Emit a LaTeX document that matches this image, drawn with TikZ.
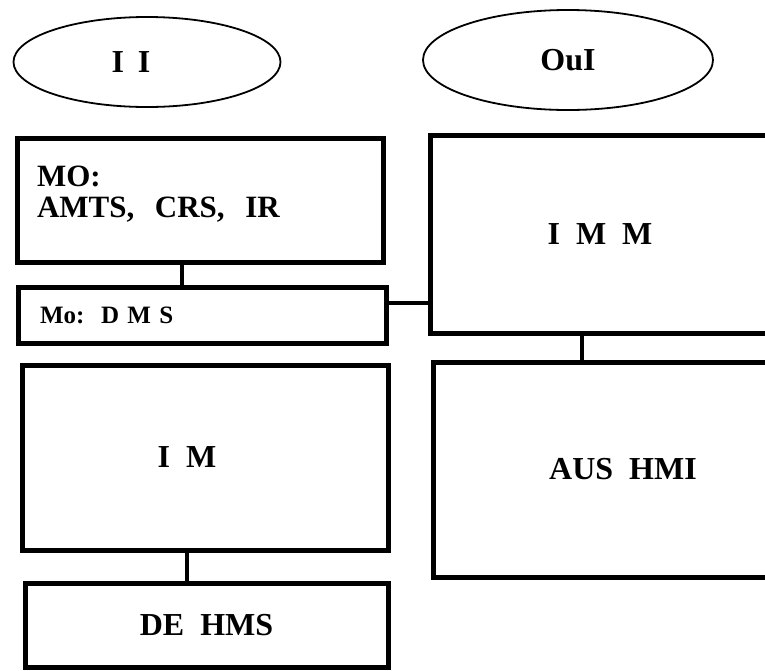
\documentclass[tikz,border=0pt]{standalone}
\usepackage{fontspec}
\setmainfont{Liberation Serif}
\usetikzlibrary{shapes.geometric}

\begin{document}
\begin{tikzpicture}[x=1pt, y=-1pt,
  block/.style={draw, line width=5pt, rectangle, inner sep=0pt,
                font=\fontsize{32}{31}\selectfont\bfseries},
  oval/.style={draw, line width=1.8pt, ellipse, inner sep=0pt,
               font=\fontsize{32}{31}\selectfont\bfseries},
  link/.style={line width=4pt}
]
\clip (0,0) rectangle (765,670);
% ovals on top
\node[oval, minimum width=267, minimum height=90] (inp) at (147,62)
  {I\hspace{14pt}I\hspace{32pt}\null};
\node[oval, minimum width=290, minimum height=100] (out) at (568,60) {OuI};
% left column
\node[block, minimum width=366, minimum height=124, text width=326,
      text depth=48pt, align=left, font=\fontsize{31}{31}\selectfont\bfseries]
  (mo) at (200,200) {MO:\\AMTS,~~CRS,~~IR};
\node[block, minimum width=368, minimum height=56, text width=324,
      align=left, font=\fontsize{25}{28}\selectfont\bfseries] (dms) at (202,315)
  {Mo:~~D M S};
\node[block, minimum width=366, minimum height=185] (im) at (205,457.5)
  {I~~M\hspace{36pt}\null};
\node[block, minimum width=363, minimum height=84] (de) at (206.5,625) {DE~~HMS};
% right column
\node[block, minimum width=340, minimum height=198] (imm) at (600,234) {I~~M~~M};
\node[block, minimum width=380, minimum height=215] (aus) at (623,469.5) {AUS~~HMI};
% links
\draw[link] ([xshift=-18]mo.south) -- ([xshift=-18]mo.south |- dms.north);
\draw[link] ([yshift=12]dms.east) -- ([yshift=12]dms.east -| imm.west);
\draw[link] ([xshift=-18]imm.south) -- ([xshift=-18]imm.south |- aus.north);
\draw[link] ([xshift=-18]im.south) -- ([xshift=-18]im.south |- de.north);
\end{tikzpicture}
\end{document}
